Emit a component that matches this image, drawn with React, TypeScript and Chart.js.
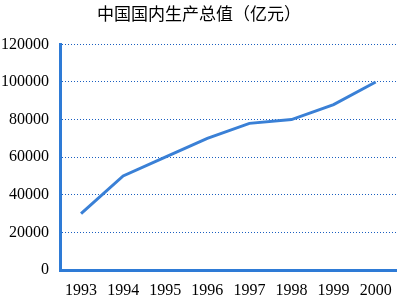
import React, { useEffect, useRef } from "react";
import { Chart, registerables } from "chart.js";

Chart.register(...registerables);

const years = ["1993", "1994", "1995", "1996", "1997", "1998", "1999", "2000"];
const gdp = [30000, 50000, 60000, 70000, 78000, 80000, 88000, 100000];
const title = "中国国内生产总值（亿元）";

export default function App() {
  const ref = useRef<HTMLCanvasElement | null>(null);
  useEffect(() => {
    document.body.style.margin = "0";
    const chart = new Chart(ref.current!, {
      type: "line",
      data: {
        labels: years,
        datasets: [
          {
            data: gdp,
            borderColor: "#3a80d6",
            borderWidth: 3,
            pointRadius: 0,
            tension: 0,
            fill: false,
          },
        ],
      },
      options: {
        animation: false,
        responsive: false,
        layout: { padding: { left: 0, right: 5, top: 0, bottom: 0 } },
        plugins: {
          legend: { display: false },
          tooltip: { enabled: false },
          title: {
            display: true,
            text: title,
            color: "#000",
            font: { family: "'Noto Sans CJK SC'", size: 17, weight: "normal" },
            padding: { top: 3, bottom: 21 },
          },
        },
        scales: {
          x: {
            offset: true,
            grid: { display: false, drawTicks: false },
            border: { display: true, color: "#2e7bd6", width: 3 },
            ticks: {
              color: "#000",
              padding: 11,
              font: { family: "'Liberation Serif'", size: 16 },
            },
            afterFit: (s: any) => {
              s.height = 31;
            },
          },
          y: {
            min: 0,
            max: 120000,
            grid: { color: "#1a5fc0", lineWidth: 1, drawTicks: false },
            border: { display: true, color: "#2e7bd6", width: 3, dash: [1, 2] },
            ticks: {
              stepSize: 20000,
              color: "#000",
              padding: 11,
              font: { family: "'Liberation Serif'", size: 16 },
              callback: (v: any) => String(v),
            },
            afterFit: (s: any) => {
              s.width = 60;
            },
          },
        },
      },
    });
    return () => chart.destroy();
  }, []);
  return (
    <div style={{ width: 403, height: 301 }}>
      <canvas ref={ref} width={403} height={301} />
    </div>
  );
}
